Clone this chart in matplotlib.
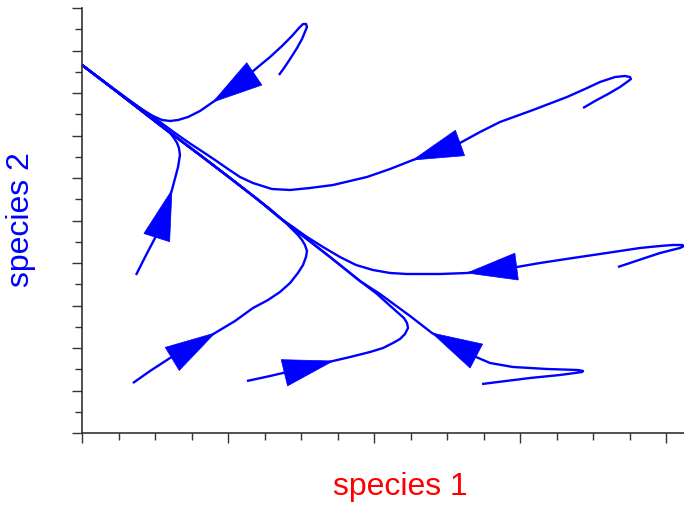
import numpy as np
import matplotlib
matplotlib.use("Agg")
import matplotlib.pyplot as plt
from matplotlib.patches import Polygon
from matplotlib.ticker import MultipleLocator
from matplotlib.transforms import IdentityTransform

# phase-plane trajectories (species 1, species 2)
traj_a_x = [1.349, 1.384, 1.425, 1.473, 1.507, 1.527, 1.541, 1.534, 1.514, 1.486, 1.438,
            1.370, 1.288, 1.164, 1.048, 0.897, 0.808, 0.726, 0.658, 0.603, 0.548, 0.486,
            0.418, 0.329, 0.226, 0.0]
traj_a_y = [8.424, 8.588, 8.800, 9.059, 9.271, 9.435, 9.553, 9.624, 9.624, 9.529, 9.341,
            9.106, 8.847, 8.494, 8.141, 7.788, 7.576, 7.435, 7.365, 7.341, 7.365, 7.459,
            7.600, 7.812, 8.071, 8.659]

traj_b_x = [3.432, 3.514, 3.603, 3.685, 3.733, 3.760, 3.753, 3.719, 3.651, 3.548, 3.445,
            3.322, 3.089, 2.863, 2.726, 2.589, 2.267, 2.110, 1.952, 1.719, 1.562, 1.425,
            1.301, 1.171, 1.082, 1.000, 0.911, 0.829, 0.740, 0.637, 0.534, 0.397, 0.192,
            0.0]
traj_b_y = [7.647, 7.812, 7.976, 8.141, 8.259, 8.329, 8.376, 8.400, 8.376, 8.259, 8.094,
            7.906, 7.600, 7.318, 7.082, 6.824, 6.424, 6.212, 6.024, 5.835, 5.765, 5.718,
            5.741, 5.882, 6.024, 6.212, 6.424, 6.612, 6.812, 7.059, 7.318, 7.647, 8.165,
            8.659]

traj_c_x = [3.671, 3.753, 3.856, 3.959, 4.041, 4.096, 4.123, 4.110, 4.048, 3.959, 3.822,
            3.548, 3.363, 3.137, 2.979, 2.795, 2.637, 2.452, 2.226, 2.110, 1.993, 1.877,
            1.767, 1.651, 1.541, 1.445, 1.356, 1.199, 1.014, 0.808, 0.534, 0.260, 0.0]
traj_c_y = [3.906, 4.000, 4.118, 4.235, 4.306, 4.353, 4.400, 4.424, 4.424, 4.400, 4.353,
            4.212, 4.118, 4.000, 3.906, 3.835, 3.765, 3.741, 3.741, 3.765, 3.835, 3.953,
            4.141, 4.376, 4.612, 4.847, 5.059, 5.506, 6.000, 6.541, 7.247, 7.976, 8.659]

traj_d_x = [0.370, 0.432, 0.500, 0.568, 0.616, 0.658, 0.671, 0.664, 0.651, 0.630, 0.603,
            0.568, 0.534, 0.260, 0.0]
traj_d_y = [3.718, 4.141, 4.588, 5.200, 5.718, 6.259, 6.541, 6.706, 6.824, 6.941, 7.059,
            7.153, 7.247, 7.976, 8.659]

traj_e_x = [0.349, 0.466, 0.603, 0.753, 0.911, 1.048, 1.171, 1.274, 1.356, 1.425, 1.479,
            1.514, 1.534, 1.541, 1.527, 1.507, 1.479, 1.445, 1.404, 1.288, 1.199, 1.014,
            0.808, 0.534, 0.260, 0.0]
traj_e_y = [1.176, 1.459, 1.765, 2.024, 2.353, 2.635, 2.941, 3.129, 3.318, 3.529, 3.765,
            3.953, 4.141, 4.282, 4.424, 4.541, 4.659, 4.776, 4.918, 5.271, 5.506, 6.000,
            6.541, 7.247, 7.976, 8.659]

traj_f_x = [1.130, 1.288, 1.493, 1.719, 1.836, 1.973, 2.062, 2.130, 2.178, 2.212, 2.233,
            2.226, 2.205, 2.158, 2.089, 2.021, 1.904, 1.699, 1.425, 1.199, 1.014, 0.808,
            0.534, 0.260, 0.0]
traj_f_y = [1.224, 1.341, 1.506, 1.694, 1.788, 1.906, 2.000, 2.118, 2.212, 2.329, 2.471,
            2.588, 2.706, 2.847, 3.059, 3.271, 3.576, 4.141, 4.871, 5.506, 6.000, 6.541,
            7.247, 7.976, 8.659]

traj_g_x = [2.740, 3.068, 3.274, 3.377, 3.425, 3.432, 3.397, 3.185, 2.952, 2.795, 2.699,
            2.555, 2.397, 2.247, 2.041, 1.904, 1.699, 1.425, 1.199, 1.014, 0.808, 0.534,
            0.260, 0.0]
traj_g_y = [1.153, 1.294, 1.365, 1.412, 1.435, 1.459, 1.482, 1.506, 1.553, 1.647, 1.788,
            2.071, 2.353, 2.753, 3.271, 3.576, 4.141, 4.871, 5.506, 6.000, 6.541, 7.247,
            7.976, 8.659]

trajectories = [(traj_a_x, traj_a_y), (traj_b_x, traj_b_y), (traj_c_x, traj_c_y),
                (traj_d_x, traj_d_y), (traj_e_x, traj_e_y), (traj_f_x, traj_f_y),
                (traj_g_x, traj_g_y)]
arrow_at = [15, 16, 16, 4, 4, 3, 12]   # index of the point where each arrow tip sits

BLUE = "#0000ff"

fig = plt.figure(figsize=(6.84, 5.07), dpi=100)
ax = fig.add_axes([82 / 684, 74 / 507, 602 / 684, 425 / 507])
ax.set_xlim(0, 602 / 146)
ax.set_ylim(0, 10)

for xs, ys in trajectories:
    ax.plot(xs, ys, color=BLUE, lw=1.7, solid_joinstyle="round",
            solid_capstyle="butt", clip_on=False)

# big filled arrow heads, built in pixel space
head_len, half_w = 50, 13.5
for (xs, ys), i in zip(trajectories, arrow_at):
    tip = ax.transData.transform((xs[i], ys[i]))
    prev = ax.transData.transform((xs[i - 1], ys[i - 1]))
    d = (tip - prev) / np.hypot(*(tip - prev))
    n = np.array([-d[1], d[0]])
    base = tip - d * head_len
    tri = [tip, base + n * half_w, base - n * half_w]
    fig.patches.append(Polygon(tri, closed=True, facecolor=BLUE, edgecolor=BLUE,
                               lw=0.5, transform=IdentityTransform(), figure=fig))

ax.xaxis.set_major_locator(MultipleLocator(1))
ax.xaxis.set_minor_locator(MultipleLocator(0.25))
ax.yaxis.set_major_locator(MultipleLocator(1))
ax.yaxis.set_minor_locator(MultipleLocator(0.5))
ax.tick_params(which="major", length=7, width=1, color="#333333", direction="out",
               labelbottom=False, labelleft=False)
ax.tick_params(which="minor", length=5, width=1, color="#333333", direction="out")
ax.spines[["top", "right"]].set_visible(False)
for s in ("left", "bottom"):
    ax.spines[s].set_color("#333333")
    ax.spines[s].set_linewidth(1.2)

fig.text(400 / 684, 1 - 487 / 507, "species 1", color="red", fontsize=23,
         family="Liberation Sans", ha="center", va="center")
fig.text(21 / 684, 1 - 220 / 507, "species 2", color=BLUE, fontsize=23,
         family="Liberation Sans", ha="center", va="center", rotation=90)

fig.savefig("out.png", dpi=100)
